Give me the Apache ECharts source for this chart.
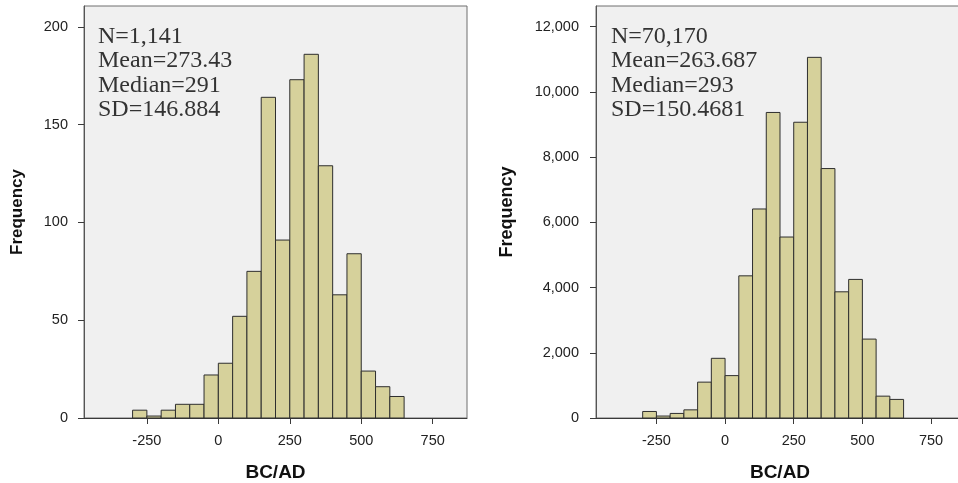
<!DOCTYPE html>
<html><head><meta charset="utf-8">
<script src="https://cdn.jsdelivr.net/npm/echarts@6/dist/echarts.min.js"></script>
<style>html,body{margin:0;padding:0;background:#fff}#c{width:958px;height:483px}</style>
</head><body><div id="c"></div>
<script>
// Bin edges (BC/AD), width 50
const binStarts = [-300,-250,-200,-150,-100,-50,0,50,100,150,200,250,300,350,400,450,500,550,600];
const binWidth = 50;
// Left histogram frequencies (N=1,141)
const leftCounts = [4,1,4,7,7,22,28,52,75,164,91,173,186,129,63,84,24,16,11];
// Right histogram frequencies (N=70,170)
const rightCounts = [200,60,140,250,1100,1830,1300,4360,6410,9370,5550,9070,11060,7650,3870,4250,2420,670,570];
const xTicks = [-250,0,250,500,750];
const leftYTicks = [0,50,100,150,200];
const rightYTicks = [0,2000,4000,6000,8000,10000,12000];
const leftStats = ['N=1,141','Mean=273.43','Median=291','SD=146.884'];
const rightStats = ['N=70,170','Mean=263.687','Median=293','SD=150.4681'];

const chart = echarts.init(document.getElementById('c'));
const fmt = v => v.toLocaleString('en-US');
function bars(counts){ return binStarts.map((s,i)=>[s, s+binWidth, counts[i]]); }
function renderItem(params, api){
  const p0 = api.coord([api.value(0), 0]);
  const p1 = api.coord([api.value(1), api.value(2)]);
  return {type:'rect', shape:{x:p0[0], y:p1[1], width:p1[0]-p0[0], height:p0[1]-p1[1]},
    style:{fill:'#d6d19b', stroke:'#2e2e2e', lineWidth:1}};
}
const labelStyle = {color:'#222', fontFamily:'Liberation Sans, Arial', fontSize:14.5};
function nameStyle(size){ return {color:'#111', fontFamily:'Liberation Sans, Arial', fontSize:size, fontWeight:'bold'}; }
function xAxis(gi){
  return {type:'value', gridIndex:gi, min:-470, max:870,
    axisLine:{show:true, onZero:false, lineStyle:{color:'#3a3a3a', width:1}},
    axisTick:{show:true, length:6, customValues:xTicks, lineStyle:{color:'#3a3a3a'}},
    axisLabel:Object.assign({customValues:xTicks, margin:15}, labelStyle),
    splitLine:{show:false},
    name:'BC/AD', nameLocation:'middle', nameGap:45, nameTextStyle:nameStyle(19)};
}
function yAxis(gi, max, ticks, gap, margin, nsize){
  return {type:'value', gridIndex:gi, min:0, max:max,
    axisLine:{show:true, onZero:false, lineStyle:{color:'#555', width:1}},
    axisTick:{show:true, length:6, customValues:ticks, lineStyle:{color:'#3a3a3a'}},
    axisLabel:Object.assign({customValues:ticks, margin:margin, formatter:v=>fmt(v)}, labelStyle),
    splitLine:{show:false},
    name:'Frequency', nameLocation:'middle', nameGap:gap, nameTextStyle:nameStyle(nsize)};
}
const statStyle = {fill:'#333', font:'24px "Liberation Serif", serif', lineHeight:24.5};
chart.setOption({
  animation:false,
  grid:[
    {left:84, top:6, width:383, height:412, outerBoundsMode:'none', containLabel:false, show:true, backgroundColor:'#f0f0f0', borderColor:'#6e6e6e', borderWidth:1},
    {left:596, top:6, width:368, height:412, outerBoundsMode:'none', containLabel:false, show:true, backgroundColor:'#f0f0f0', borderColor:'#6e6e6e', borderWidth:1}
  ],
  xAxis:[xAxis(0), xAxis(1)],
  yAxis:[yAxis(0, 210.7, leftYTicks, 58, 16, 17), yAxis(1, 12635, rightYTicks, 80, 17, 18)],
  series:[
    {type:'custom', xAxisIndex:0, yAxisIndex:0, renderItem, encode:{x:[0,1], y:2}, data:bars(leftCounts)},
    {type:'custom', xAxisIndex:1, yAxisIndex:1, renderItem, encode:{x:[0,1], y:2}, data:bars(rightCounts)}
  ],
  graphic:[
    {type:'text', left:98, top:24, style:Object.assign({text:leftStats.join('\n')}, statStyle)},
    {type:'text', left:611, top:24, style:Object.assign({text:rightStats.join('\n')}, statStyle)}
  ]
});
</script></body></html>
